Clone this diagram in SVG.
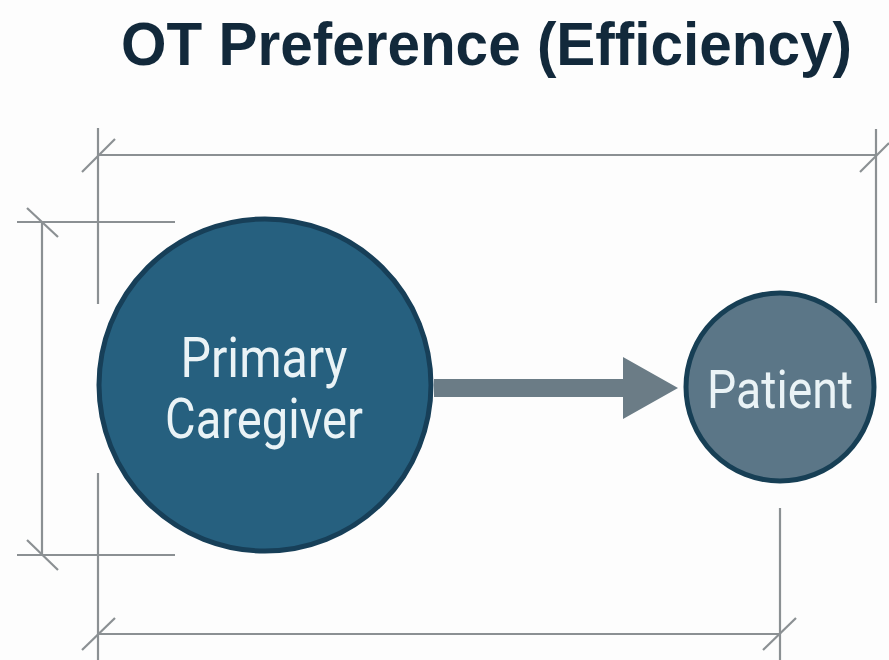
<svg xmlns="http://www.w3.org/2000/svg" width="889" height="660" viewBox="0 0 889 660">
<style>
.dim{stroke:#8b9093;stroke-width:2.2;fill:none;stroke-linecap:butt}
.title{font-family:"Liberation Sans",Arial,sans-serif;font-weight:bold;font-size:61px;fill:#12293b}
.lbl{font-family:Roboto,"Liberation Sans",sans-serif;fill:#eaf3f6;text-anchor:middle}
</style>
<rect width="889" height="660" fill="#fdfdfd"/>
<text class="title" x="121" y="65" textLength="731" lengthAdjust="spacingAndGlyphs">OT Preference (Efficiency)</text>
<g id="dimensions">
  <line class="dim" x1="98" y1="128" x2="98" y2="304"/>
  <line class="dim" x1="98" y1="473" x2="98" y2="660"/>
  <line class="dim" x1="98" y1="155" x2="876" y2="155"/>
  <line class="dim" x1="82" y1="172" x2="115" y2="139"/>
  <line class="dim" x1="876" y1="129" x2="876" y2="303"/>
  <line class="dim" x1="860" y1="172" x2="889" y2="143"/>
  <line class="dim" x1="17" y1="222" x2="175" y2="222"/>
  <line class="dim" x1="17" y1="555" x2="175" y2="555"/>
  <line class="dim" x1="42" y1="222" x2="42" y2="555"/>
  <line class="dim" x1="27" y1="208" x2="58" y2="237"/>
  <line class="dim" x1="27" y1="540" x2="58" y2="570"/>
  <line class="dim" x1="98" y1="634" x2="780" y2="634"/>
  <line class="dim" x1="82" y1="650" x2="115" y2="618"/>
  <line class="dim" x1="780" y1="508" x2="780" y2="660"/>
  <line class="dim" x1="763" y1="650" x2="796" y2="618"/>
</g>
<g id="connectors">
  <polygon points="434,379 623,379 623,357 678,388 623,419 623,397 434,397" fill="#6b7c86"/>
</g>
<g id="node-caregiver">
  <circle cx="265" cy="385" r="166" fill="#26607f" stroke="#173f58" stroke-width="5"/>
  <text class="lbl" x="264" y="377" font-size="55" textLength="167" lengthAdjust="spacingAndGlyphs">Primary</text>
  <text class="lbl" x="264" y="438" font-size="55" textLength="198" lengthAdjust="spacingAndGlyphs">Caregiver</text>
</g>
<g id="node-patient">
  <circle cx="780" cy="387" r="94" fill="#5b7687" stroke="#173f55" stroke-width="5"/>
  <text class="lbl" x="780" y="408" font-size="53" textLength="146" lengthAdjust="spacingAndGlyphs">Patient</text>
</g>
</svg>
